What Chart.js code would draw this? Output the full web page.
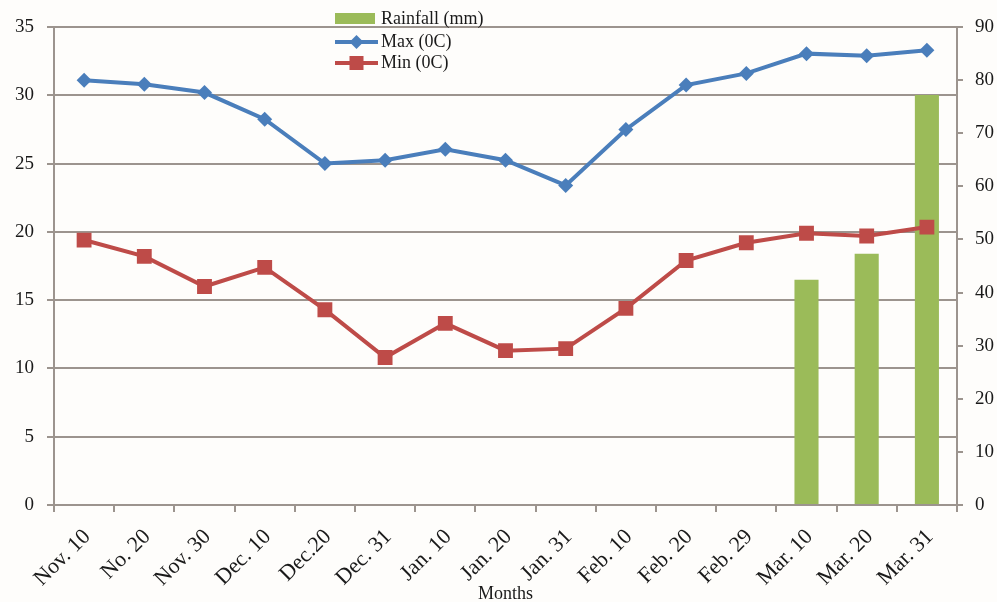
<!DOCTYPE html>
<html><head><meta charset="utf-8">
<script src="https://cdn.jsdelivr.net/npm/chart.js@4.4.0/dist/chart.umd.min.js"></script>
<style>html,body{margin:0;padding:0;background:#fefdfb;overflow:hidden}#wrap{width:997px;height:602px}</style>
</head><body><div id="wrap"><canvas id="c" width="997" height="602"></canvas></div>
<script>
const categories = ['Nov. 10','No. 20','Nov. 30','Dec. 10','Dec.20','Dec. 31','Jan. 10','Jan. 20','Jan. 31','Feb. 10','Feb. 20','Feb. 29','Mar. 10','Mar. 20','Mar. 31'];
const maxTemp = [31.1, 30.8, 30.2, 28.25, 25.0, 25.25, 26.05, 25.25, 23.4, 27.5, 30.75, 31.6, 33.05, 32.9, 33.3];
const minTemp = [19.4, 18.2, 16.0, 17.4, 14.3, 10.8, 13.3, 11.3, 11.45, 14.4, 17.9, 19.2, 19.9, 19.7, 20.35];
const rainfall = [null, null, null, null, null, null, null, null, null, null, null, null, 42.4, 47.3, 77.2];
const leftAxis = {min: 0, max: 35, step: 5};
const rightAxis = {min: 0, max: 90, step: 10};
const seriesNames = ['Rainfall (mm)', 'Max (0C)', 'Min (0C)'];

const GREEN = '#9bbb59', BLUE = '#4a7ebb', RED = '#be4b48', GRID = '#9c948e', TXT = '#1a1a1a';
const FONT = 'Liberation Serif';

const bgPlugin = {id:'bg', beforeDraw(chart){const c=chart.ctx;c.save();c.fillStyle='#fefdfb';c.fillRect(0,0,chart.width,chart.height);c.restore();}};

const legendPlugin = {id:'customLegend', afterDraw(chart){
  const c = chart.ctx, a = chart.chartArea;
  const x0 = a.left + 281, x1 = x0 + 43, tx = x1 + 3;
  c.save();
  c.font = '18px "' + FONT + '"';
  c.textBaseline = 'middle';
  c.fillStyle = GREEN; c.fillRect(x0, 13, 40, 11);
  c.fillStyle = TXT; c.fillText(seriesNames[0], tx, 19);
  const ym = 42, xm = (x0 + x1) / 2;
  c.strokeStyle = BLUE; c.lineWidth = 4; c.beginPath(); c.moveTo(x0, ym); c.lineTo(x1, ym); c.stroke();
  c.fillStyle = BLUE; c.beginPath(); c.moveTo(xm-7,ym); c.lineTo(xm,ym-7); c.lineTo(xm+7,ym); c.lineTo(xm,ym+7); c.closePath(); c.fill();
  c.fillStyle = TXT; c.fillText(seriesNames[1], tx, ym);
  const yn = 63;
  c.strokeStyle = RED; c.beginPath(); c.moveTo(x0, yn); c.lineTo(x1, yn); c.stroke();
  c.fillStyle = RED; c.fillRect(xm-7, yn-7, 14, 14);
  c.fillStyle = TXT; c.fillText(seriesNames[2], tx, yn);
  c.restore();
}};

new Chart(document.getElementById('c'), {
  data: {
    labels: categories,
    datasets: [
      {type:'line', label: seriesNames[1], data: maxTemp, yAxisID:'y', borderColor: BLUE, backgroundColor: BLUE, borderWidth: 4, tension: 0, pointStyle:'rectRot', pointRadius: 7.5, pointHoverRadius: 7.5, pointBorderWidth: 0, order: 0},
      {type:'line', label: seriesNames[2], data: minTemp, yAxisID:'y', borderColor: RED, backgroundColor: RED, borderWidth: 4, tension: 0, pointStyle:'rect', pointRadius: 10.5, pointHoverRadius: 10.5, pointBorderWidth: 0, order: 1},
      {type:'bar', label: seriesNames[0], data: rainfall, yAxisID:'y1', backgroundColor: GREEN, borderWidth: 0, barPercentage: 0.4, categoryPercentage: 1, order: 2}
    ]
  },
  options: {
    responsive: false, animation: false, devicePixelRatio: 1,
    layout: {padding: {top: 27, left: 0, right: 0, bottom: 0}},
    plugins: {legend: {display: false}, tooltip: {enabled: false}},
    scales: {
      x: {
        offset: true,
        grid: {display: true, drawOnChartArea: false, drawTicks: true, tickLength: 7, color: GRID, lineWidth: 2, offset: true},
        border: {display: true, color: GRID, width: 2},
        ticks: {font: {family: FONT, size: 22}, color: TXT, minRotation: 45, maxRotation: 45, padding: 12, labelOffset: 3, autoSkip: false},
        title: {display: true, text: 'Months', font: {family: FONT, size: 18}, color: TXT, padding: {top: 0, bottom: -3}},
        afterFit(s){ s.height = 97; }
      },
      y: {
        position: 'left', min: leftAxis.min, max: leftAxis.max,
        grid: {color: GRID, lineWidth: 2, tickLength: 7, drawTicks: true},
        border: {display: true, color: GRID, width: 2},
        ticks: {stepSize: leftAxis.step, font: {family: FONT, size: 19}, color: TXT, padding: 13},
        afterFit(s){ s.width = 54; }
      },
      y1: {
        position: 'right', min: rightAxis.min, max: rightAxis.max,
        grid: {drawOnChartArea: false, color: GRID, lineWidth: 2, tickLength: 6},
        border: {display: true, color: GRID, width: 2},
        ticks: {stepSize: rightAxis.step, font: {family: FONT, size: 19}, color: TXT, padding: 12},
        afterFit(s){ s.width = 40; }
      }
    }
  },
  plugins: [bgPlugin, legendPlugin]
});
</script></body></html>
